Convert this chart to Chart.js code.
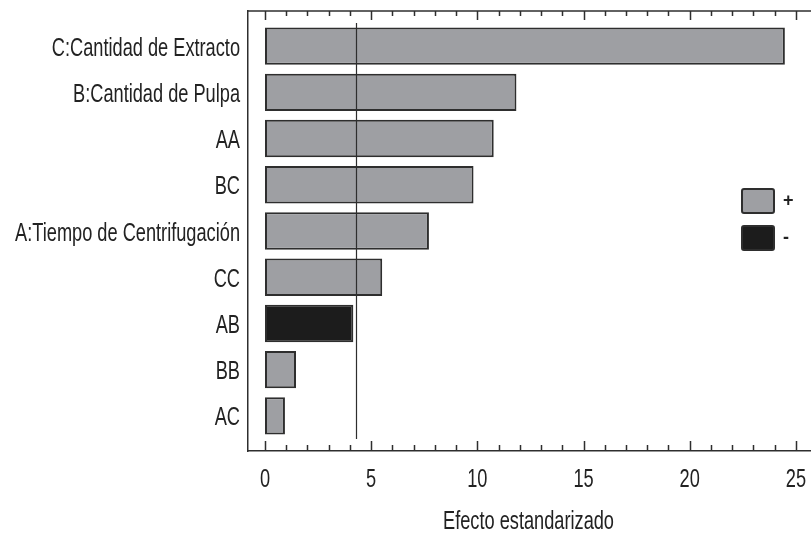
<!DOCTYPE html>
<html>
<head>
<meta charset="utf-8">
<script src="https://cdn.jsdelivr.net/npm/chart.js@4.4.1/dist/chart.umd.min.js"></script>
<style>
  html, body { margin: 0; padding: 0; background: #fff; overflow: hidden; }
</style>
</head>
<body>
<canvas id="chart" width="811" height="534"></canvas>
<script>
// Pareto de efectos estandarizados
const factors = ['C:Cantidad de Extracto', 'B:Cantidad de Pulpa', 'AA', 'BC', 'A:Tiempo de Centrifugación', 'CC', 'AB', 'BB', 'AC'];
const effects = [24.48, 11.84, 10.77, 9.82, 7.72, 5.52, 4.16, 1.46, 0.94];
const signs = ['+', '+', '+', '+', '+', '+', '-', '+', '+'];
const xTicks = [0, 5, 10, 15, 20, 25];
const xTitle = 'Efecto estandarizado';
const criticalValue = 4.27;
const legendItems = ['+', '-'];

const GREY = '#9e9fa3';
const BLACK = '#1c1c1c';
const EDGE = '#2e2e2e';
const TEXT = '#222';
const FONT = "'Liberation Sans', Arial, sans-serif";
const SQUEEZE = 0.7; // the original lettering is very condensed

// condensed text, drawn at a point with the given alignment
function narrowText(ctx, str, x, y, align) {
  ctx.save();
  ctx.translate(x, y);
  ctx.scale(SQUEEZE, 1);
  ctx.textAlign = align;
  ctx.textBaseline = 'alphabetic';
  ctx.fillText(str, 0, 0);
  ctx.restore();
}

// labels, frame, inside tick marks, critical line and legend
const decorations = {
  id: 'decorations',
  afterDatasetsDraw(chart) {
    const { ctx, chartArea: a, scales: { x, y } } = chart;
    ctx.save();
    ctx.strokeStyle = EDGE;
    ctx.lineWidth = 1.5;

    // top border
    ctx.beginPath();
    ctx.moveTo(a.left, a.top);
    ctx.lineTo(a.right, a.top);
    ctx.stroke();

    // tick marks pointing inwards, top and bottom
    for (let v = 0; v <= Math.floor(x.max); v++) {
      const px = Math.round(x.getPixelForValue(v)) + 0.5;
      const len = v % 5 === 0 ? 10 : 6;
      ctx.beginPath();
      ctx.moveTo(px, a.bottom);
      ctx.lineTo(px, a.bottom - len);
      ctx.moveTo(px, a.top);
      ctx.lineTo(px, a.top + len - 1);
      ctx.stroke();
    }

    // critical value line
    const cx = Math.round(x.getPixelForValue(criticalValue)) + 0.5;
    ctx.lineWidth = 1.2;
    ctx.beginPath();
    ctx.moveTo(cx, y.getPixelForValue(-0.5));
    ctx.lineTo(cx, y.getPixelForValue(factors.length - 0.5));
    ctx.stroke();

    // text
    ctx.fillStyle = TEXT;
    ctx.font = '26px ' + FONT;
    factors.forEach((f, i) => narrowText(ctx, f, a.left - 8, y.getPixelForValue(i) + 9.5, 'right'));
    xTicks.forEach(v => narrowText(ctx, String(v), x.getPixelForValue(v), a.bottom + 36, 'center'));
    narrowText(ctx, xTitle, (a.left + a.right) / 2 - 1, a.bottom + 78, 'center');

    // legend
    const colors = { '+': GREY, '-': BLACK };
    legendItems.forEach((s, i) => {
      const bx = 742, by = 189 + i * 37;
      ctx.fillStyle = colors[s];
      ctx.strokeStyle = EDGE;
      ctx.lineWidth = 2;
      ctx.beginPath();
      ctx.roundRect(bx, by, 32, 24, 2);
      ctx.fill();
      ctx.stroke();
      ctx.fillStyle = TEXT;
      ctx.font = 'bold 18px ' + FONT;
      ctx.textBaseline = 'middle';
      ctx.textAlign = 'left';
      ctx.fillText(s, 783, by + 12);
    });
    ctx.restore();
  }
};

new Chart(document.getElementById('chart'), {
  type: 'bar',
  data: {
    datasets: [{
      label: 'Efecto',
      data: effects.map((v, i) => ({ x: v, y: i })),
      backgroundColor: signs.map(s => s === '+' ? GREY : BLACK),
      borderColor: EDGE,
      borderWidth: 2,
      borderSkipped: false,
      categoryPercentage: 1,
      barPercentage: 0.81
    }]
  },
  options: {
    indexAxis: 'y',
    responsive: false,
    animation: false,
    layout: { padding: { top: 11, right: 0, left: 0, bottom: 0 } },
    plugins: { legend: { display: false }, tooltip: { enabled: false } },
    scales: {
      x: {
        type: 'linear',
        position: 'bottom',
        min: -0.8,
        max: 25.71,
        offset: false,
        grid: { display: false, drawTicks: false },
        border: { display: true, color: EDGE, width: 1.5 },
        afterBuildTicks: s => { s.ticks = xTicks.map(v => ({ value: v })); },
        afterFit: s => { s.height = 83; },
        ticks: { display: false }
      },
      y: {
        type: 'linear',
        reverse: true,
        min: -0.76,
        max: 8.76,
        offset: false,
        grid: { display: false, drawTicks: false },
        border: { display: true, color: EDGE, width: 1.5 },
        afterBuildTicks: s => { s.ticks = factors.map((_, i) => ({ value: i })); },
        afterFit: s => { s.width = 248; },
        ticks: { display: false }
      }
    }
  },
  plugins: [decorations]
});
</script>
</body>
</html>
